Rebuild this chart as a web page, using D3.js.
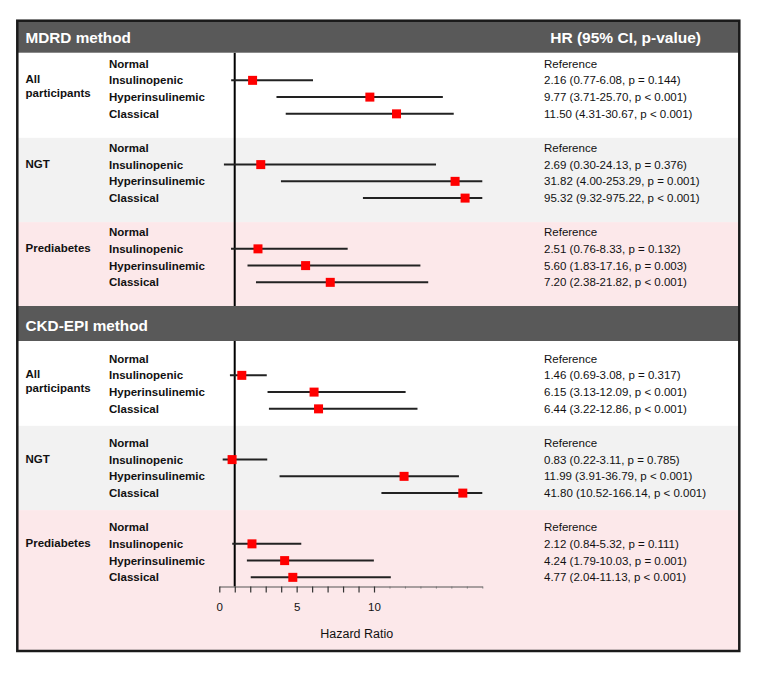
<!DOCTYPE html>
<html>
<head>
<meta charset="utf-8">
<script src="https://cdn.jsdelivr.net/npm/d3@7"></script>
<style>
body { margin: 0; background: #fff; }
text { font-family: "Liberation Sans", Arial, sans-serif; }
</style>
</head>
<body>
<svg id="myGraph" width="762" height="681"></svg>
<script>
// data
var methods = ["MDRD method", "CKD-EPI method"];
var groups = [["All", "participants"], ["NGT"], ["Prediabetes"]];
var subgroups = ["Normal", "Insulinopenic", "Hyperinsulinemic", "Classical"];
var rightHeader = "HR (95% CI, p-value)";

// rows = Insulinopenic, Hyperinsulinemic, Classical (Normal is the reference)
var mdrdHR = [[2.16, 9.77, 11.50], [2.69, 31.82, 95.32], [2.51, 5.60, 7.20]];
var mdrdLo = [[0.77, 3.71, 4.31], [0.30, 4.00, 9.32], [0.76, 1.83, 2.38]];
var mdrdHi = [[6.08, 25.70, 30.67], [24.13, 253.29, 975.22], [8.33, 17.16, 21.82]];
var mdrdP = [["= 0.144", "< 0.001", "< 0.001"], ["= 0.376", "= 0.001", "< 0.001"], ["= 0.132", "= 0.003", "< 0.001"]];

var ckdHR = [[1.46, 6.15, 6.44], [0.83, 11.99, 41.80], [2.12, 4.24, 4.77]];
var ckdLo = [[0.69, 3.13, 3.22], [0.22, 3.91, 10.52], [0.84, 1.79, 2.04]];
var ckdHi = [[3.08, 12.09, 12.86], [3.11, 36.79, 166.14], [5.32, 10.03, 11.13]];
var ckdP = [["= 0.317", "< 0.001", "< 0.001"], ["= 0.785", "< 0.001", "< 0.001"], ["= 0.111", "= 0.001", "< 0.001"]];

var xMajorTicks = d3.range(0, 11);
var xMinorTicks = d3.range(11, 18);
var xTickLabels = [0, 5, 10];
var xTitle = "Hazard Ratio";

// the plot squeezes big HRs into the last units of the axis
var hrKnots = [0, 12.9, 17.2, 21.8, 24.1, 25.7, 31, 42, 100, 166];
var axisKnots = [0, 12.85, 13.0, 13.5, 14.0, 14.45, 15.2, 15.75, 15.9, 17];

// layout
var boxX = 17.3, boxY = 20.7, boxW = 722, boxH = 630.3;
var headerTop = [20.7, 306], headerH = [32, 35];
var firstRow = [63.6, 358.6];
var groupStep = 84.25, rowStep = 16.75;
var bandPad = [10, 17];
var bandColors = ["#ffffff", "#f2f2f2", "#fce8ea"];
var axisY = 586.5;
var groupX = 25.5, subX = 109, rightX = 544;

var svg = d3.select("#myGraph");

var xScale = d3.scaleLinear()
    .domain([0, 17])
    .range([219.3, 482.3]);

var xHR = d3.scaleLinear()
    .domain(hrKnots)
    .range(axisKnots.map(xScale))
    .clamp(true);

var series = [
    {hr: mdrdHR, lo: mdrdLo, hi: mdrdHi, p: mdrdP},
    {hr: ckdHR, lo: ckdLo, hi: ckdHi, p: ckdP}
];

function rowY(m, g, s){
    return firstRow[m] + g * groupStep + s * rowStep;
}

// background bands
methods.forEach(function(name, m){
    var bottom = m < methods.length - 1 ? headerTop[m + 1] : boxY + boxH;
    groups.forEach(function(grp, g){
        var top = g == 0 ? headerTop[m] + headerH[m] : rowY(m, g, 0) - bandPad[m];
        var next = g < groups.length - 1 ? rowY(m, g + 1, 0) - bandPad[m] : bottom;
        svg.append("rect")
            .attr("x", boxX)
            .attr("y", top)
            .attr("width", boxW)
            .attr("height", next - top)
            .attr("fill", bandColors[g]);
    });
});

// reference line at HR = 1
svg.append("line")
    .attr("x1", xHR(1))
    .attr("x2", xHR(1))
    .attr("y1", headerTop[0] + headerH[0])
    .attr("y2", axisY)
    .attr("stroke", "#000")
    .attr("stroke-width", 2);

// headers
methods.forEach(function(name, m){
    svg.append("rect")
        .attr("x", boxX)
        .attr("y", headerTop[m])
        .attr("width", boxW)
        .attr("height", headerH[m])
        .attr("fill", "#595959");
    svg.append("text")
        .attr("x", groupX)
        .attr("y", headerTop[m] + headerH[m] - 10)
        .attr("fill", "#fff")
        .attr("font-size", "15.3px")
        .attr("font-weight", "bold")
        .text(name);
});
svg.append("text")
    .attr("x", 701)
    .attr("y", headerTop[0] + headerH[0] - 10)
    .attr("text-anchor", "end")
    .attr("fill", "#fff")
    .attr("font-size", "15.5px")
    .attr("font-weight", "bold")
    .text(rightHeader);

// rows
methods.forEach(function(name, m){
    var d = series[m];
    groups.forEach(function(grp, g){
        grp.forEach(function(line, k){
            svg.append("text")
                .attr("x", groupX)
                .attr("y", rowY(m, g, 1) + 3 + k * 13.3)
                .attr("font-size", "11.5px")
                .attr("font-weight", "bold")
                .attr("fill", "#111")
                .text(line);
        });
        subgroups.forEach(function(sub, s){
            var y = rowY(m, g, s);
            svg.append("text")
                .attr("x", subX)
                .attr("y", y + 4)
                .attr("font-size", "11.5px")
                .attr("font-weight", "bold")
                .attr("fill", "#111")
                .text(sub);

            var label = "Reference";
            if(s > 0){
                var hr = d.hr[g][s - 1], lo = d.lo[g][s - 1], hi = d.hi[g][s - 1];
                label = hr.toFixed(2) + " (" + lo.toFixed(2) + "-" + hi.toFixed(2) + ", p " + d.p[g][s - 1] + ")";

                svg.append("line")
                    .attr("x1", xHR(lo))
                    .attr("x2", xHR(hi))
                    .attr("y1", y)
                    .attr("y2", y)
                    .attr("stroke", "#222")
                    .attr("stroke-width", 2);
                svg.append("rect")
                    .attr("x", xHR(hr) - 4.5)
                    .attr("y", y - 4.5)
                    .attr("width", 9)
                    .attr("height", 9)
                    .attr("fill", "#ff0000");
            }
            svg.append("text")
                .attr("x", rightX)
                .attr("y", y + 4)
                .attr("font-size", "11.5px")
                .attr("fill", "#111")
                .text(label);
        });
    });
});

// axis
var xAxis = d3.axisBottom(xScale)
    .tickValues(xMajorTicks)
    .tickSize(6)
    .tickSizeOuter(0)
    .tickFormat(function(d){ return xTickLabels.indexOf(d) >= 0 ? d : ""; });

var gAxis = svg.append("g")
    .attr("transform", "translate(0," + axisY + ")")
    .call(xAxis);
gAxis.select(".domain").attr("stroke", "#555").attr("stroke-width", 1.2);
gAxis.selectAll(".tick line").attr("stroke", "#333").attr("stroke-width", 1.2);
gAxis.selectAll(".tick text")
    .attr("y", 16)
    .attr("font-size", "11.5px")
    .attr("font-family", "Liberation Sans, Arial, sans-serif")
    .attr("fill", "#111");

var minorAxis = d3.axisBottom(xScale)
    .tickValues(xMinorTicks)
    .tickSize(2)
    .tickSizeOuter(0)
    .tickFormat("");
var gMinor = svg.append("g")
    .attr("transform", "translate(0," + axisY + ")")
    .call(minorAxis);
gMinor.select(".domain").remove();
gMinor.selectAll(".tick line").attr("stroke", "#777");

svg.append("text")
    .attr("x", 356.7)
    .attr("y", 637.5)
    .attr("text-anchor", "middle")
    .attr("font-size", "12.5px")
    .attr("fill", "#111")
    .text(xTitle);

// outer border
svg.append("rect")
    .attr("x", boxX)
    .attr("y", boxY)
    .attr("width", boxW)
    .attr("height", boxH)
    .attr("fill", "none")
    .attr("stroke", "#1a1a1a")
    .attr("stroke-width", 2.5);
</script>
</body>
</html>
